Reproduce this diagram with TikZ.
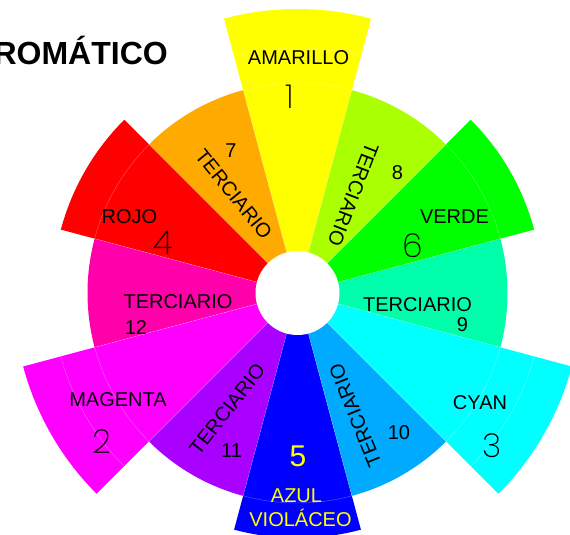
\documentclass[tikz,border=0pt]{standalone}
\usepackage{fontspec}
\setmainfont{Liberation Sans}
\IfFontExistsTF{Poppins ExtraLight}{\newfontfamily\thinfont{Poppins ExtraLight}}{%
  \IfFontExistsTF{Poppins Light}{\newfontfamily\thinfont{Poppins Light}}{\newfontfamily\thinfont{Liberation Sans}}}
\definecolor{cyel}{HTML}{FFFF00}
\definecolor{corg}{HTML}{FFAA00}
\definecolor{cred}{HTML}{FF0000}
\definecolor{cpnk}{HTML}{FF00AA}
\definecolor{cmag}{HTML}{FF00FF}
\definecolor{cpur}{HTML}{AA00FF}
\definecolor{cblu}{HTML}{0000FF}
\definecolor{cazu}{HTML}{00AAFF}
\definecolor{ccya}{HTML}{00FFFF}
\definecolor{cspr}{HTML}{00FFAA}
\definecolor{cgrn}{HTML}{00FF00}
\definecolor{ccha}{HTML}{AAFF00}
\tikzset{
  seam/.style={draw=white, draw opacity=0.35, line width=0.4pt},
  lbl/.style={font=\fontsize{20}{24}\selectfont, inner sep=0pt, text height=14.3pt, text depth=0pt},
  biglbl/.style={font=\fontsize{30}{34}\selectfont, inner sep=0pt, text height=21.5pt, text depth=0pt},
  thindig/.style={font=\thinfont\fontsize{33}{36}\selectfont, inner sep=0pt, text height=23pt, text depth=0pt},
  titletxt/.style={font=\bfseries\fontsize{32}{36}\selectfont, inner sep=0pt}
}
\begin{document}
\begin{tikzpicture}[x=1pt,y=1pt]
\useasboundingbox (-297.5,-242) rectangle (272.5,293);
\coordinate (c) at (0,0);
% sectors
\foreach \a/\r/\col in {75/284/cyel,105/210/corg,135/245/cred,165/210/cpnk,195/284/cmag,225/210/cpur,255/245/cblu,285/210/cazu,315/284/ccya,345/210/cspr,15/245/cgrn,45/210/ccha}{
  \fill[\col] (c) -- (\a:\r) arc[start angle=\a, end angle=\a+30, radius=\r] -- cycle;
}
% faint seams
\foreach \a/\r in {75/210,105/210,135/210,165/210,195/210,225/210,255/210,285/210,315/210,345/210,15/210,45/210}{
  \draw[seam] (\a:42) -- (\a:\r);
}
\foreach \a in {75,195,315}{
  \draw[seam] (\a:210) arc[start angle=\a, end angle=\a+30, radius=210];
  \draw[seam] (\a:245) arc[start angle=\a, end angle=\a+30, radius=245];
}
\foreach \a in {135,255,15}{
  \draw[seam] (\a:210) arc[start angle=\a, end angle=\a+30, radius=210];
}
% hole
\fill[white] (c) circle[radius=42];
% title
\node[titletxt, anchor=base east] (title) at (-129.5,228) {ROMÁTICO};
% labels
\node[lbl] (amarillo) at (1,235.5) {AMARILLO};
\node[thindig] (n1) at (-7.5,196) {1};
\node[lbl] (n7) at (-66.5,143) {7};
\node[lbl, rotate=-51] (t7) at (-63.5,99) {TERCIARIO};
\node[lbl, rotate=-111] (t8) at (56,98.5) {TERCIARIO};
\node[lbl] (n8) at (100,120.5) {8};
\node[lbl] (rojo) at (-168,76.5) {ROJO};
\node[thindig] (n4) at (-134.5,49.5) {4};
\node[lbl] (verde) at (157,77) {VERDE};
\node[thindig] (n6) at (115,47) {6};
\node[lbl] (t12) at (-119.5,-8) {TERCIARIO};
\node[lbl] (n12) at (-161.5,-34) {12};
\node[lbl] (t9) at (120,-11.5) {TERCIARIO};
\node[lbl] (n9) at (165,-31.5) {9};
\node[lbl] (magenta) at (-179.5,-106.5) {MAGENTA};
\node[thindig] (n2) at (-195.5,-148.5) {2};
\node[lbl] (cyan) at (182.5,-109.5) {CYAN};
\node[thindig] (n3) at (195,-153) {3};
\node[lbl, rotate=52] (t11) at (-70.5,-116) {TERCIARIO};
\node[lbl] (n11) at (-66,-157) {11};
\node[lbl, rotate=112] (t10) at (57.5,-122.5) {TERCIARIO};
\node[lbl] (n10) at (101.5,-139) {10};
\node[biglbl, text=cyel] (n5) at (0.5,-163) {5};
\node[lbl, text=cyel] (azul) at (-1,-202.5) {AZUL};
\node[lbl, text=cyel] (violaceo) at (3,-226) {VIOLÁCEO};
\end{tikzpicture}
\end{document}
